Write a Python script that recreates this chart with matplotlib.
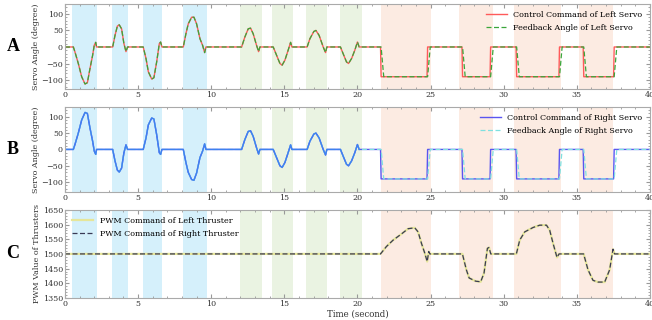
import numpy as np
import matplotlib
matplotlib.use("Agg")
from matplotlib import pyplot as plt
from matplotlib.ticker import AutoMinorLocator

plt.rcParams['font.family'] = ['DejaVu Serif']

# shaded manoeuvre windows (start, end) in seconds
blue_spans = [(0.46, 2.17), (3.19, 4.33), (5.35, 6.6), (8.04, 9.68)]
green_spans = [(11.96, 13.44), (14.13, 15.56), (16.47, 17.93), (18.8, 20.28)]
orange_spans = [(21.58, 25.06), (26.95, 29.28), (30.69, 33.95), (35.15, 37.48)]

# left servo, sine-like manoeuvres (shared by command and feedback)
left_t = [0, 0.57, 0.68, 0.91, 1.14, 1.37, 1.53, 1.71, 1.89, 2.0, 2.1, 2.16,
          3.26, 3.42, 3.58, 3.71, 3.87, 4.03, 4.17, 4.28,
          5.35, 5.54, 5.7, 5.93, 6.08, 6.27, 6.45, 6.54, 6.63,
          8.09, 8.27, 8.43, 8.66, 8.82, 9.0, 9.23, 9.41, 9.55, 9.64,
          12.08, 12.3, 12.53, 12.69, 12.87, 13.1, 13.24, 13.33,
          14.24, 14.47, 14.7, 14.85, 15.04, 15.26, 15.43, 15.52,
          16.56, 16.75, 17.02, 17.16, 17.38, 17.66, 17.82, 17.91,
          18.84, 19.02, 19.25, 19.39, 19.6, 19.82, 20.0, 20.12]
left_v = [0, 0, -15, -50, -90, -112, -108, -65, -25, 5, 14, 0,
          0, 35, 63, 67, 55, 10, -14, 0,
          0, -35, -75, -97, -93, -45, 10, 15, 0,
          0, 40, 70, 90, 90, 70, 25, 5, -17, 0,
          0, 30, 55, 57, 40, 5, -14, 0,
          0, -25, -50, -55, -40, -10, 14, 0,
          0, 25, 47, 50, 35, 0, -17, 0,
          0, -20, -45, -50, -35, -10, 15, 0]

# right servo, mirrored in the first four windows
right_t = left_t
right_v = [0, 0, 15, 50, 90, 113, 110, 65, 25, -5, -15, 0,
           0, -35, -63, -69, -57, -10, 14, 0,
           0, 35, 75, 96, 93, 45, -10, -15, 0,
           0, -40, -70, -92, -94, -72, -25, -5, 17, 0,
           0, 30, 55, 57, 40, 5, -14, 0,
           0, -25, -50, -55, -40, -10, 14, 0,
           0, 25, 47, 50, 35, 0, -17, 0,
           0, -20, -45, -50, -35, -10, 15, 0]

# step part (identical for both servos)
cmd_step_t = [20.12, 21.58, 21.62, 24.76, 24.8, 27.15, 27.19, 29.07, 29.11,
              30.85, 30.89, 33.78, 33.82, 35.44, 35.48, 37.52, 37.56, 40]
cmd_step_v = [0, 0, -90, -90, 0, 0, -90, -90, 0, 0, -90, -90, 0, 0, -90, -90, 0, 0]
fb_step_t = [20.12, 21.62, 21.8, 24.8, 24.98, 27.19, 27.37, 29.11, 29.29,
             30.89, 31.07, 33.82, 34.0, 35.48, 35.66, 37.56, 37.74, 40]
fb_step_v = cmd_step_v

# thruster PWM
pwm_t = [0, 21.58, 21.98, 22.44, 23.01, 23.47, 23.92, 24.15, 24.38, 24.61, 24.77, 24.88, 24.95,
         27.18, 27.45, 27.64, 28.09, 28.43, 28.66, 28.89, 29.0, 29.12,
         30.87, 31.1, 31.44, 32.01, 32.47, 32.93, 33.15, 33.38, 33.65, 33.79,
         35.47, 35.77, 36.11, 36.46, 36.91, 37.25, 37.48, 37.59, 40]
pwm_left = [1500, 1500, 1525, 1547, 1568, 1586, 1589, 1575, 1536, 1502, 1474, 1508, 1500,
            1500, 1446, 1418, 1407, 1405, 1435, 1519, 1522, 1500,
            1500, 1547, 1575, 1590, 1598, 1598, 1581, 1536, 1488, 1500,
            1500, 1446, 1410, 1404, 1404, 1446, 1516, 1500, 1500]
pwm_right = list(pwm_left)

FS = 5.8

fig = plt.figure(figsize=(6.52, 3.2), dpi=100)
left, width = 0.0997, 0.897
axA = fig.add_axes([left, 0.722, width, 0.2655])
axB = fig.add_axes([left, 0.4, width, 0.266])
axC = fig.add_axes([left, 0.069, width, 0.275])

def shade(ax):
    for a, b in blue_spans:
        ax.axvspan(a, b, color='#d5f0fb', lw=0, zorder=0)
    for a, b in green_spans:
        ax.axvspan(a, b, color='#eaf3e2', lw=0, zorder=0)
    for a, b in orange_spans:
        ax.axvspan(a, b, color='#fcebe2', lw=0, zorder=0)

def style(ax):
    ax.set_xlim(0, 40)
    ax.set_xticks([0, 5, 10, 15, 20, 25, 30, 35, 40])
    ax.xaxis.set_minor_locator(AutoMinorLocator(5))
    ax.yaxis.set_minor_locator(AutoMinorLocator(5))
    ax.tick_params(which='both', direction='in', top=True, right=True,
                   colors='#999999', labelcolor='#333333', labelsize=FS, pad=1.5)
    ax.tick_params(which='major', length=3)
    ax.tick_params(which='minor', length=1.5)
    for s in ax.spines.values():
        s.set_color('#aaaaaa')
        s.set_linewidth(0.8)

def legend(ax, loc):
    ax.legend(loc=loc, frameon=False, fontsize=FS, handlelength=2.6,
              handletextpad=0.8, borderaxespad=0.5, labelspacing=0.55)

# A
shade(axA)
axA.plot(left_t + cmd_step_t, left_v + cmd_step_v, color='#ff5a5a', lw=1.0,
         label='Control Command of Left Servo')
axA.plot(left_t + fb_step_t, left_v + fb_step_v, color='#3aa63a', lw=0.9,
         ls=(0, (4, 2)), label='Feedback Angle of Left Servo')
axA.set_ylim(-127, 130)
axA.set_yticks([-100, -50, 0, 50, 100])
axA.set_ylabel('Servo Angle (degree)', fontsize=FS, color='#333333', labelpad=1)
style(axA)
legend(axA, 'upper right')

# B
shade(axB)
axB.plot(right_t + cmd_step_t, right_v + cmd_step_v, color='#5a55f0', lw=1.0,
         label='Control Command of Right Servo')
axB.plot(right_t + fb_step_t, right_v + fb_step_v, color='#7fe0e0', lw=0.9,
         ls=(0, (4, 2)), label='Feedback Angle of Right Servo')
axB.plot(right_t, right_v, color='#3f80f0', lw=1.0)
axB.set_ylim(-130, 130)
axB.set_yticks([-100, -50, 0, 50, 100])
axB.set_ylabel('Servo Angle (degree)', fontsize=FS, color='#333333', labelpad=1)
style(axB)
legend(axB, 'upper right')

# C
shade(axC)
axC.plot(pwm_t, pwm_left, color='#e6e69a', lw=1.6, label='PWM Command of Left Thruster')
axC.plot(pwm_t, pwm_right, color='#3a3a55', lw=0.9, ls=(0, (4, 2)),
         label='PWM Command of Right Thruster')
axC.set_ylim(1350, 1650)
axC.set_yticks(np.arange(1350, 1651, 50))
axC.set_ylabel('PWM Value of Thrusters', fontsize=FS, color='#333333', labelpad=1)
axC.set_xlabel('Time (second)', fontsize=FS + 0.4, color='#333333', labelpad=1)
style(axC)
legend(axC, 'upper left')

for ax, letter in [(axA, 'A'), (axB, 'B'), (axC, 'C')]:
    ax.text(-0.089, 0.5, letter, transform=ax.transAxes, fontsize=13,
            fontweight='bold', family='Liberation Serif', ha='center', va='center')

fig.savefig('out.png', dpi=100)
